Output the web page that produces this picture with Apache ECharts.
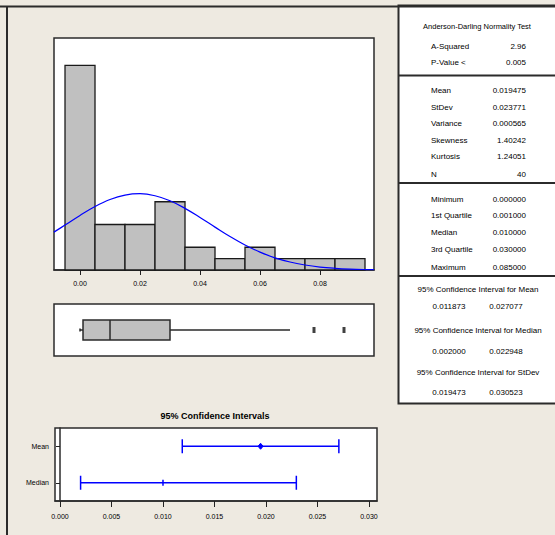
<!DOCTYPE html>
<html>
<head>
<meta charset="utf-8">
<script src="https://cdn.jsdelivr.net/npm/echarts@6/dist/echarts.min.js"></script>
<style>
html,body{margin:0;padding:0;background:#EEEAE1;}
#c{width:555px;height:535px;}
</style>
</head>
<body>
<div id="c"></div>
<script>
// ---- data ----
const binCenters = [0.00, 0.01, 0.02, 0.03, 0.04, 0.05, 0.06, 0.07, 0.08, 0.09];
const binCounts  = [18, 4, 4, 6, 2, 1, 2, 1, 1, 1];
const curveX = [-0.0087, -0.005, 0, 0.005, 0.01, 0.015, 0.02, 0.025, 0.03, 0.035, 0.04, 0.045, 0.05, 0.055, 0.06, 0.065, 0.07, 0.075, 0.08, 0.085, 0.09, 0.095, 0.098];
const curveY = [3.33, 3.95, 4.80, 5.58, 6.20, 6.59, 6.71, 6.53, 6.09, 5.42, 4.62, 3.77, 2.94, 2.20, 1.57, 1.07, 0.70, 0.44, 0.26, 0.15, 0.08, 0.04, 0.03];
const histTicks = [0.00, 0.02, 0.04, 0.06, 0.08];

const boxStats = [0.000, 0.001, 0.010, 0.030, 0.070]; // whiskerLow, Q1, median, Q3, whiskerHigh
const boxOutliers = [0.078, 0.088];

const ciCategories = ['Median', 'Mean'];
const ciLow    = [0.002000, 0.011873];
const ciHigh   = [0.022948, 0.027077];
const ciCenter = [0.010000, 0.019475];
const ciTicks = [0.000, 0.005, 0.010, 0.015, 0.020, 0.025, 0.030];

const adTitle = 'Anderson-Darling Normality Test';
const adLabels = ['A-Squared', 'P-Value <'];
const adValues = ['2.96', '0.005'];
const descLabels = ['Mean', 'StDev', 'Variance', 'Skewness', 'Kurtosis', 'N'];
const descValues = ['0.019475', '0.023771', '0.000565', '1.40242', '1.24051', '40'];
const quartLabels = ['Minimum', '1st Quartile', 'Median', '3rd Quartile', 'Maximum'];
const quartValues = ['0.000000', '0.001000', '0.010000', '0.030000', '0.085000'];
const ciTitles = ['95% Confidence Interval for Mean', '95% Confidence Interval for Median', '95% Confidence Interval for StDev'];
const ciTextLow  = ['0.011873', '0.002000', '0.019473'];
const ciTextHigh = ['0.027077', '0.022948', '0.030523'];
const ciPlotTitle = '95% Confidence Intervals';

// ---- styling ----
const FONT = '"Liberation Sans", Arial, sans-serif';
const frameColor = '#2b2b2b';
const blue = '#0000FF';

const chart = echarts.init(document.getElementById('c'), null, {renderer: 'svg', width: 555, height: 535});

function txt(text, x, y, align, size, bold) {
  return {
    type: 'text', x: x, y: y, z: 10,
    style: {
      text: text, fill: '#000',
      font: (bold ? 'bold ' : '') + (size || 8) + 'px ' + FONT,
      align: align, textAlign: align,
      verticalAlign: 'middle', textVerticalAlign: 'middle'
    }
  };
}

const graphics = [];
// outer frame lines
graphics.push({type: 'line', z: 5, shape: {x1: 0, y1: 6.5, x2: 555, y2: 6.5}, style: {stroke: frameColor, lineWidth: 2}});
graphics.push({type: 'line', z: 5, shape: {x1: 7, y1: 6.5, x2: 7, y2: 535}, style: {stroke: frameColor, lineWidth: 2}});
// right panel
graphics.push({type: 'rect', z: 4, shape: {x: 398.5, y: 5.5, width: 170, height: 398}, style: {fill: '#fff', stroke: frameColor, lineWidth: 2}});
[75.5, 183, 276].forEach(function (yy) {
  graphics.push({type: 'line', z: 5, shape: {x1: 398.5, y1: yy, x2: 555, y2: yy}, style: {stroke: frameColor, lineWidth: 2}});
});
// right panel texts
const LX = 431, RX = 526;
graphics.push(txt(adTitle, 477, 26, 'center', 7.5));
const adY = [46, 62.5];
adLabels.forEach(function (l, i) { graphics.push(txt(l, LX, adY[i], 'left')); graphics.push(txt(adValues[i], RX, adY[i], 'right')); });
const descY = [90, 107, 123.5, 140, 156.5, 174];
descLabels.forEach(function (l, i) { graphics.push(txt(l, LX, descY[i], 'left')); graphics.push(txt(descValues[i], RX, descY[i], 'right')); });
const quartY = [199, 215.5, 232, 249.5, 267];
quartLabels.forEach(function (l, i) { graphics.push(txt(l, LX, quartY[i], 'left')); graphics.push(txt(quartValues[i], RX, quartY[i], 'right')); });
const ciTitleY = [289, 330, 372.5];
const ciValY = [306.5, 351.5, 392.5];
ciTitles.forEach(function (t, i) {
  graphics.push(txt(t, 478, ciTitleY[i], 'center'));
  graphics.push(txt(ciTextLow[i], 449, ciValY[i], 'center'));
  graphics.push(txt(ciTextHigh[i], 506, ciValY[i], 'center'));
});
graphics.push(txt(ciPlotTitle, 215, 415.5, 'center', 9, true));

const gridBase = {show: true, backgroundColor: '#fff', borderColor: frameColor, borderWidth: 1.5, containLabel: false};

const option = {
  animation: false,
  backgroundColor: '#EEEAE1',
  textStyle: {fontFamily: FONT},
  grid: [
    Object.assign({left: 54, top: 38, width: 320, height: 232}, gridBase),
    Object.assign({left: 54, top: 304, width: 320, height: 52}, gridBase),
    Object.assign({left: 55, top: 428, width: 322, height: 73}, gridBase)
  ],
  xAxis: [
    {
      gridIndex: 0, type: 'value', min: -0.00867, max: 0.098,
      axisLine: {show: true, onZero: false, lineStyle: {color: frameColor, width: 1.5}},
      axisTick: {show: true, customValues: histTicks, length: 5, lineStyle: {color: '#222', width: 1}},
      axisLabel: {customValues: histTicks, formatter: function (v) { return v.toFixed(2); }, fontSize: 7, color: '#000', margin: 10},
      splitLine: {show: false}
    },
    {gridIndex: 1, type: 'value', min: -0.00867, max: 0.098, show: false, splitLine: {show: false}},
    {
      gridIndex: 2, type: 'value', min: -0.000485, max: 0.03078,
      axisLine: {show: true, onZero: false, lineStyle: {color: frameColor, width: 1.5}},
      axisTick: {show: true, customValues: ciTicks, length: 6, lineStyle: {color: '#222', width: 1}},
      axisLabel: {customValues: ciTicks, formatter: function (v) { return v.toFixed(3); }, fontSize: 7, color: '#000', margin: 12},
      splitLine: {show: false}
    }
  ],
  yAxis: [
    {gridIndex: 0, type: 'value', min: 0, max: 20.4, show: false, splitLine: {show: false}},
    {gridIndex: 1, type: 'value', min: 0, max: 1, show: false, splitLine: {show: false}},
    {
      gridIndex: 2, type: 'category', data: ciCategories,
      axisLine: {show: true, lineStyle: {color: frameColor, width: 1.5}},
      axisTick: {show: true, alignWithLabel: true, length: 4, lineStyle: {color: '#222'}},
      axisLabel: {fontSize: 7, color: '#000', margin: 6},
      splitLine: {show: false}
    }
  ],
  graphic: {elements: graphics},
  series: [
    {
      type: 'custom', xAxisIndex: 0, yAxisIndex: 0,
      data: binCenters.map(function (c, i) { return [c, binCounts[i]]; }),
      encode: {x: 0, y: 1},
      renderItem: function (params, api) {
        const w = binCenters[1] - binCenters[0];
        const c = api.value(0), n = api.value(1);
        const p0 = api.coord([c - w / 2, n]);
        const p1 = api.coord([c + w / 2, 0]);
        return {
          type: 'rect',
          shape: {x: p0[0], y: p0[1], width: p1[0] - p0[0], height: p1[1] - p0[1]},
          style: {fill: '#C0C0C0', stroke: '#1a1a1a', lineWidth: 1.3}
        };
      },
      z: 2
    },
    {
      type: 'line', xAxisIndex: 0, yAxisIndex: 0,
      data: curveX.map(function (x, i) { return [x, curveY[i]]; }),
      smooth: 0.4, symbol: 'none', clip: true,
      lineStyle: {color: blue, width: 1.2},
      z: 3
    },
    {
      type: 'custom', xAxisIndex: 1, yAxisIndex: 1,
      data: [boxStats],
      encode: {x: [0, 1, 2, 3, 4]},
      renderItem: function (params, api) {
        const v = [api.value(0), api.value(1), api.value(2), api.value(3), api.value(4)];
        const p = v.map(function (x) { return api.coord([x, 0.5]); });
        const cy = p[0][1];
        const h = 10;
        const st = {stroke: '#2a2a2a', lineWidth: 1.5};
        return {
          type: 'group',
          children: [
            {type: 'line', shape: {x1: p[0][0], y1: cy, x2: p[1][0], y2: cy}, style: st},
            {type: 'line', shape: {x1: p[0][0], y1: cy - 1.5, x2: p[0][0], y2: cy + 1.5}, style: st},
            {type: 'line', shape: {x1: p[3][0], y1: cy, x2: p[4][0], y2: cy}, style: st},
            {type: 'rect', shape: {x: p[1][0], y: cy - h, width: p[3][0] - p[1][0], height: 2 * h}, style: {fill: '#C0C0C0', stroke: '#2a2a2a', lineWidth: 1.5}},
            {type: 'line', shape: {x1: p[2][0], y1: cy - h, x2: p[2][0], y2: cy + h}, style: st}
          ]
        };
      },
      z: 2
    },
    {
      type: 'scatter', xAxisIndex: 1, yAxisIndex: 1,
      data: boxOutliers.map(function (x) { return [x, 0.5]; }),
      symbol: 'rect', symbolSize: [3, 6],
      itemStyle: {color: '#111'},
      z: 3
    },
    {
      type: 'custom', xAxisIndex: 2, yAxisIndex: 2,
      data: ciCategories.map(function (c, i) { return [ciLow[i], i, ciHigh[i], ciCenter[i]]; }),
      encode: {x: [0, 2, 3], y: 1},
      renderItem: function (params, api) {
        const lo = api.value(0), cat = api.value(1), hi = api.value(2), c = api.value(3);
        const pl = api.coord([lo, cat]), ph = api.coord([hi, cat]), pc = api.coord([c, cat]);
        const y = pl[1];
        const st = {stroke: blue, lineWidth: 1.5};
        const capH = 7;
        const children = [
          {type: 'line', shape: {x1: pl[0], y1: y, x2: ph[0], y2: y}, style: st},
          {type: 'line', shape: {x1: pl[0], y1: y - capH, x2: pl[0], y2: y + capH}, style: st},
          {type: 'line', shape: {x1: ph[0], y1: y - capH, x2: ph[0], y2: y + capH}, style: st}
        ];
        if (params.dataIndex === 1) {
          children.push({type: 'polygon', shape: {points: [[pc[0], y - 3], [pc[0] + 2.5, y], [pc[0], y + 3], [pc[0] - 2.5, y]]}, style: {fill: blue, stroke: blue, lineWidth: 1}});
        } else {
          children.push({type: 'line', shape: {x1: pc[0], y1: y - 3, x2: pc[0], y2: y + 3}, style: st});
        }
        return {type: 'group', children: children};
      },
      z: 3
    }
  ]
};
chart.setOption(option);
</script>
</body>
</html>
